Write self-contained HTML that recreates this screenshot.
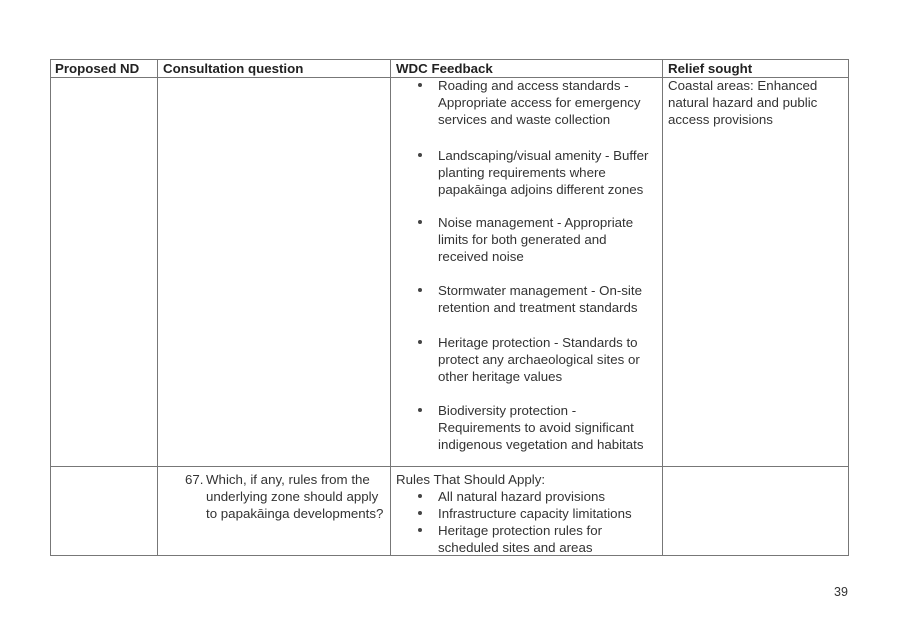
<!DOCTYPE html>
<html><head><meta charset="utf-8"><style>
body{margin:0;width:907px;height:626px;background:#fff;position:relative;overflow:hidden;font-family:"Liberation Sans",sans-serif;color:#333;}
.h{position:absolute;height:1px;background:#777;}
.v{position:absolute;width:1px;background:#777;}
.t{position:absolute;font-size:13.3px;line-height:17px;white-space:nowrap;}
.b{font-weight:bold;color:#222;}
.d{position:absolute;width:4px;height:4px;border-radius:50%;background:#444;}
</style></head><body>
<div class="h" style="left:50px;top:59px;width:799px"></div>
<div class="h" style="left:50px;top:77px;width:799px"></div>
<div class="h" style="left:50px;top:466px;width:799px"></div>
<div class="h" style="left:50px;top:555px;width:799px"></div>
<div class="v" style="left:50px;top:59px;height:497px"></div>
<div class="v" style="left:157px;top:59px;height:497px"></div>
<div class="v" style="left:390px;top:59px;height:497px"></div>
<div class="v" style="left:662px;top:59px;height:497px"></div>
<div class="v" style="left:848px;top:59px;height:497px"></div>

<div class="t b" style="left:55px;top:60px">Proposed ND</div>
<div class="t b" style="left:163px;top:60px">Consultation question</div>
<div class="t b" style="left:396px;top:60px">WDC Feedback</div>
<div class="t b" style="left:668px;top:60px">Relief sought</div>

<div class="t" style="left:668px;top:77px">Coastal areas: Enhanced<br>natural hazard and public<br>access provisions</div>

<div class="d" style="left:418px;top:83px"></div>
<div class="t" style="left:438px;top:77px">Roading and access standards -<br>Appropriate access for emergency<br>services and waste collection</div>
<div class="d" style="left:418px;top:153px"></div>
<div class="t" style="left:438px;top:147px">Landscaping/visual amenity - Buffer<br>planting requirements where<br>papakāinga adjoins different zones</div>
<div class="d" style="left:418px;top:220px"></div>
<div class="t" style="left:438px;top:214px">Noise management - Appropriate<br>limits for both generated and<br>received noise</div>
<div class="d" style="left:418px;top:288px"></div>
<div class="t" style="left:438px;top:282px">Stormwater management - On-site<br>retention and treatment standards</div>
<div class="d" style="left:418px;top:340px"></div>
<div class="t" style="left:438px;top:334px">Heritage protection - Standards to<br>protect any archaeological sites or<br>other heritage values</div>
<div class="d" style="left:418px;top:408px"></div>
<div class="t" style="left:438px;top:402px">Biodiversity protection -<br>Requirements to avoid significant<br>indigenous vegetation and habitats</div>

<div class="t" style="left:185px;top:471px">67.</div>
<div class="t" style="left:206px;top:471px">Which, if any, rules from the<br>underlying zone should apply<br>to papakāinga developments?</div>

<div class="t" style="left:396px;top:471px">Rules That Should Apply:</div>
<div class="d" style="left:418px;top:494px"></div>
<div class="d" style="left:418px;top:511px"></div>
<div class="d" style="left:418px;top:528px"></div>
<div class="t" style="left:438px;top:488px">All natural hazard provisions<br>Infrastructure capacity limitations<br>Heritage protection rules for<br>scheduled sites and areas</div>

<div class="t" style="left:834px;top:584px;font-size:12.5px">39</div>
</body></html>
